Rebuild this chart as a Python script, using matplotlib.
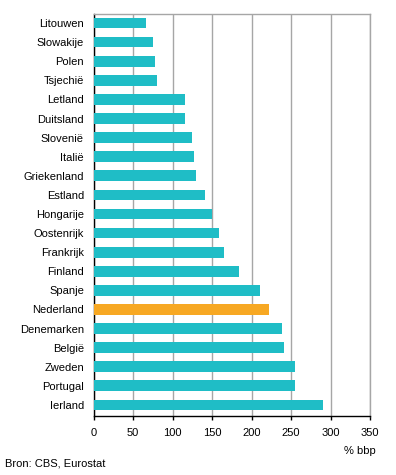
import matplotlib.pyplot as plt
import numpy as np

plt.rcParams['font.family'] = ['Liberation Sans', 'DejaVu Sans']

landen = ['Litouwen', 'Slowakije', 'Polen', 'Tsjechië', 'Letland', 'Duitsland',
          'Slovenië', 'Italië', 'Griekenland', 'Estland', 'Hongarije', 'Oostenrijk',
          'Frankrijk', 'Finland', 'Spanje', 'Nederland', 'Denemarken', 'België',
          'Zweden', 'Portugal', 'Ierland']
waarden = [66, 75, 78, 80, 116, 116, 125, 127, 130, 141, 150, 159,
           165, 184, 211, 222, 239, 241, 255, 255, 291]
xticks = [0, 50, 100, 150, 200, 250, 300, 350]

teal = '#1FBDC6'
oranje = '#F7A823'
grijs = '#A6A6A6'

fig = plt.figure(figsize=(3.96, 4.75), dpi=100)
ax = fig.add_axes([0.2366, 0.125, 0.6977, 0.845])

n = len(landen)
y = np.arange(n)[::-1]
kleuren = [oranje if l == 'Nederland' else teal for l in landen]
ax.barh(y, waarden, height=0.56, color=kleuren, zorder=3)

ax.set_xlim(0, 350)
ax.set_ylim(-0.56, n - 0.54)
ax.set_xticks(xticks)
ax.set_xticklabels([str(t) for t in xticks], fontsize=8)
ax.set_yticks(y)
ax.set_yticklabels(landen, fontsize=8)
ax.tick_params(axis='y', length=0, pad=7)
ax.tick_params(axis='x', length=3, width=1, color='black', pad=6)

ax.xaxis.grid(True, color=grijs, linewidth=1, zorder=0)
ax.spines['left'].set_color('black')
ax.spines['bottom'].set_color('black')
ax.spines['top'].set_color(grijs)
ax.spines['right'].set_color(grijs)
for s in ax.spines.values():
    s.set_linewidth(1)

fig.text(0.95, 0.05, '% bbp', fontsize=8, ha='right', va='center')
fig.text(0.013, 0.025, 'Bron: CBS, Eurostat', fontsize=8, ha='left', va='center')

fig.savefig('out.png', dpi=100)
